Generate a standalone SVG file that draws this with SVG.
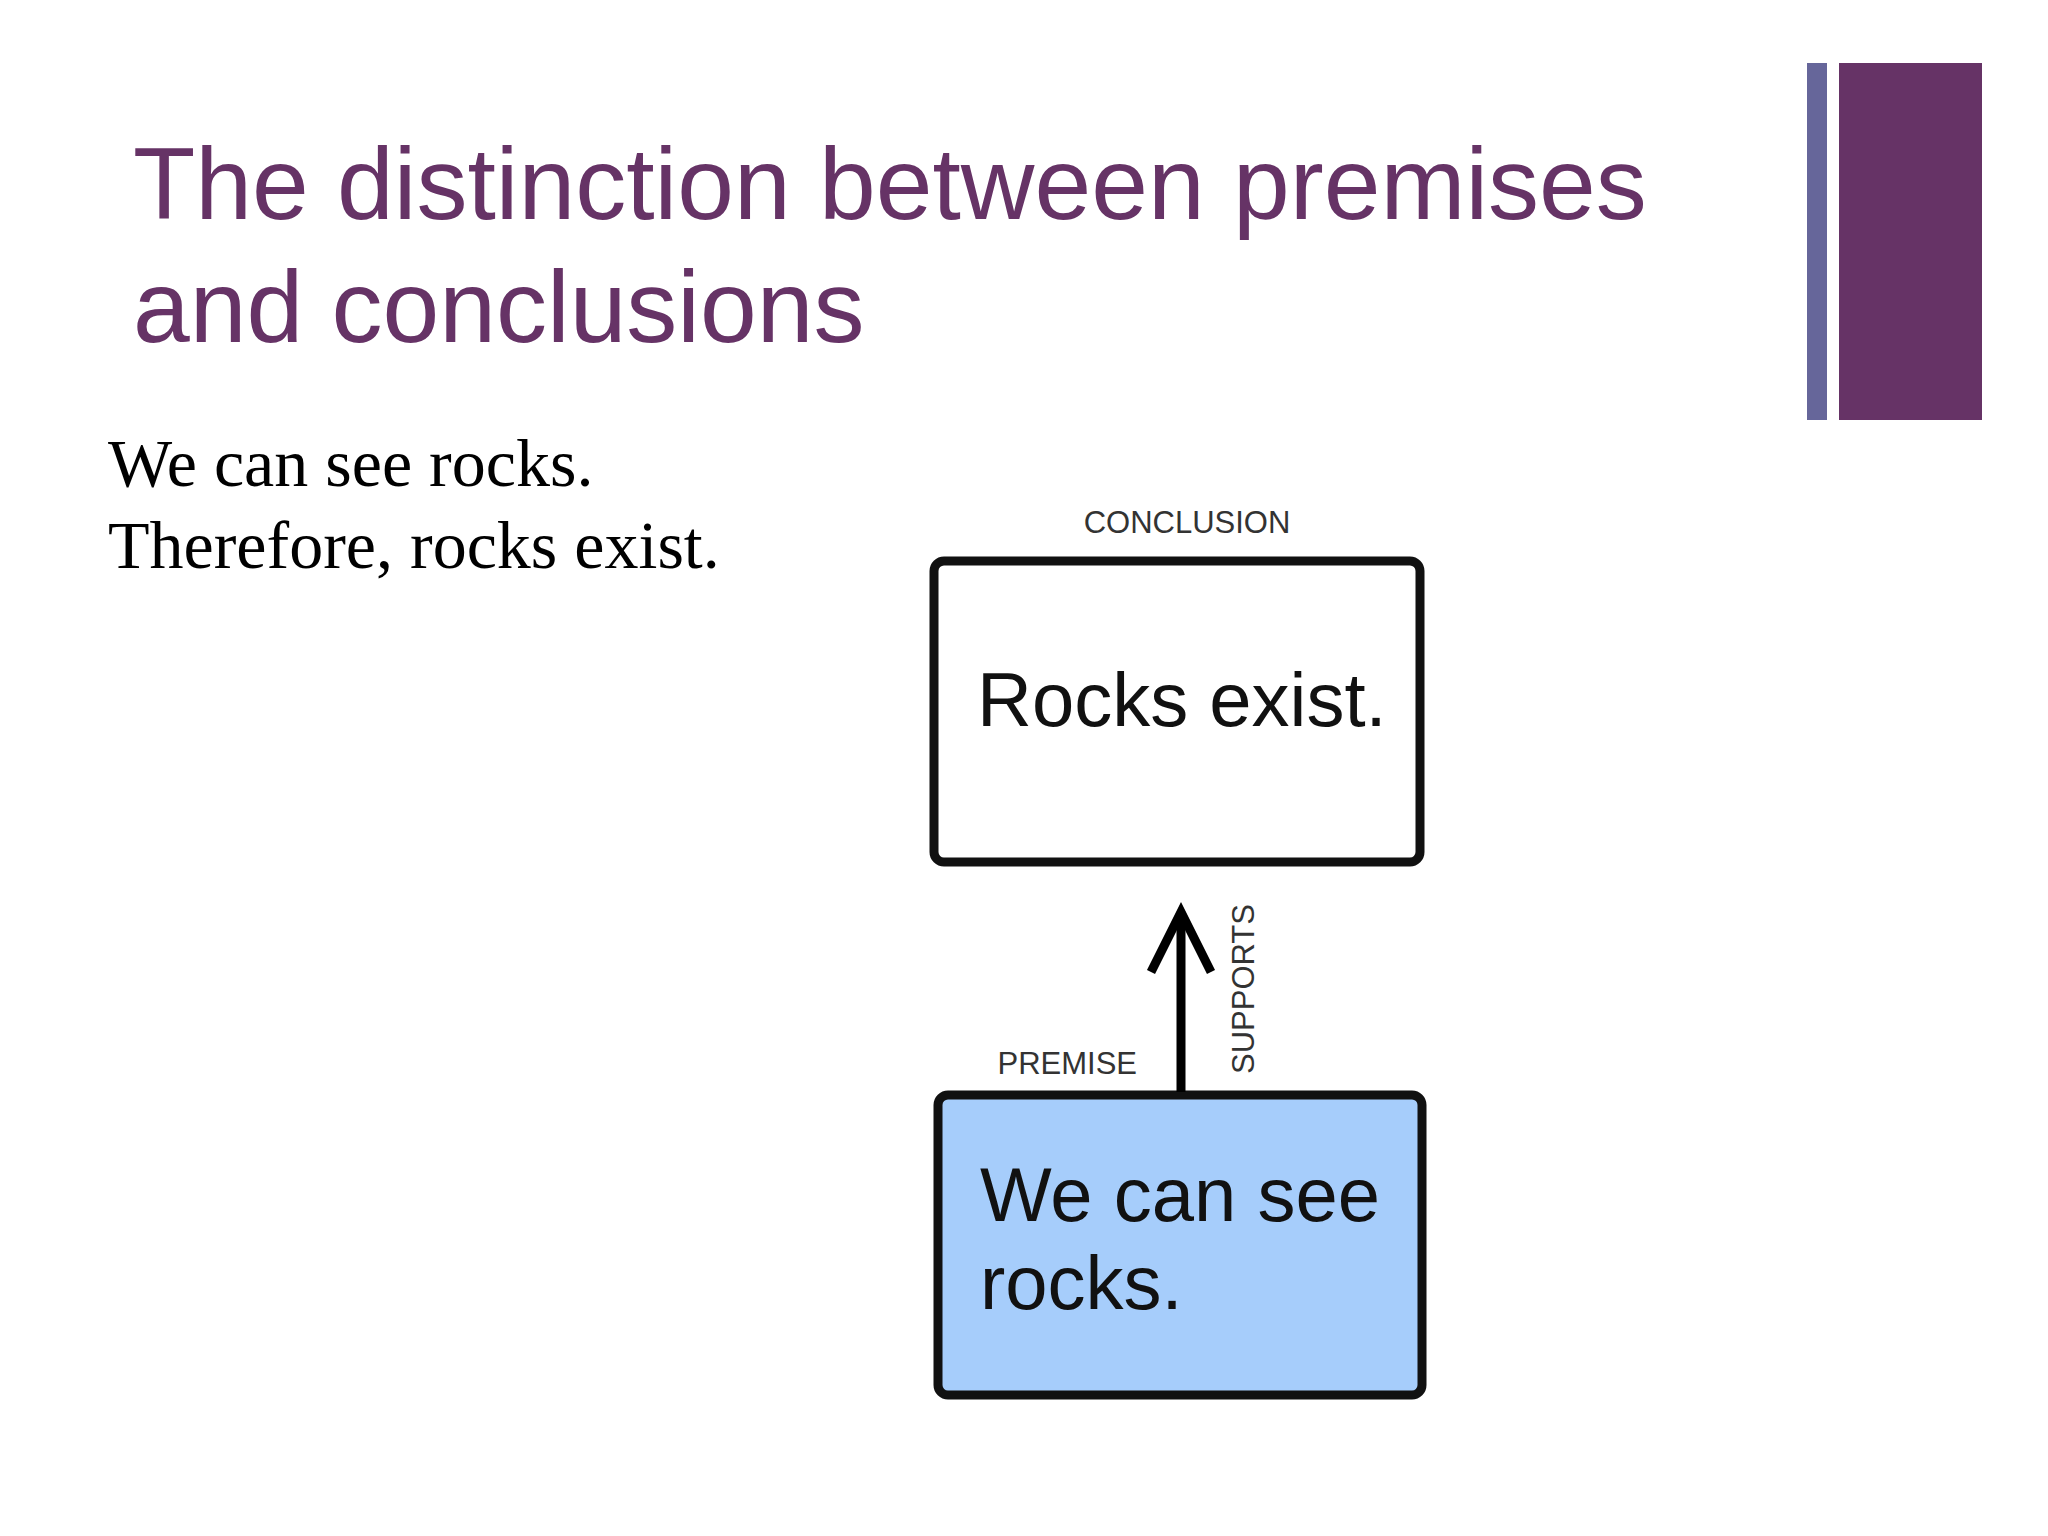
<svg xmlns="http://www.w3.org/2000/svg" width="2048" height="1536" viewBox="0 0 2048 1536">
<style>
.title{font-family:"Liberation Sans",Arial,sans-serif;font-size:102px;fill:#663366}
.body{font-family:"Liberation Serif","Times New Roman",serif;font-size:68px;fill:#000}
.lbl{font-family:"Liberation Sans",Arial,sans-serif;font-size:31px;fill:#333}
.big{font-family:"Liberation Sans",Arial,sans-serif;font-size:76px;fill:#111}
.box{stroke:#111;stroke-width:9}
</style>
<rect width="2048" height="1536" fill="#fff"/>
<rect x="1807" y="63" width="20" height="357" fill="#66669a"/>
<rect x="1839" y="63" width="143" height="357" fill="#663366"/>
<text class="title" x="133" y="219">The distinction between premises</text>
<text class="title" x="133" y="342">and conclusions</text>
<text class="body" x="108" y="486">We can see rocks.</text>
<text class="body" x="108" y="568">Therefore, rocks exist.</text>
<g id="conclusion">
<text class="lbl" x="1187" y="533" text-anchor="middle">CONCLUSION</text>
<rect class="box" x="934" y="561" width="486" height="301" rx="10" fill="#fff"/>
<text class="big" x="977" y="726">Rocks exist.</text>
</g>
<g id="premise">
<text class="lbl" x="1137" y="1074" text-anchor="end">PREMISE</text>
<rect class="box" x="938" y="1095" width="484" height="300" rx="10" fill="#a6cdfb"/>
<text class="big" x="980" y="1221">We can see</text>
<text class="big" x="980" y="1309">rocks.</text>
</g>
<g id="connectors">
<line x1="1181" y1="1092" x2="1181" y2="912" stroke="#000" stroke-width="9"/>
<polyline points="1151,972 1181,912 1211,972" fill="none" stroke="#000" stroke-width="9"/>
<text class="lbl" transform="translate(1254,989) rotate(-90)" text-anchor="middle">SUPPORTS</text>
</g>
</svg>
